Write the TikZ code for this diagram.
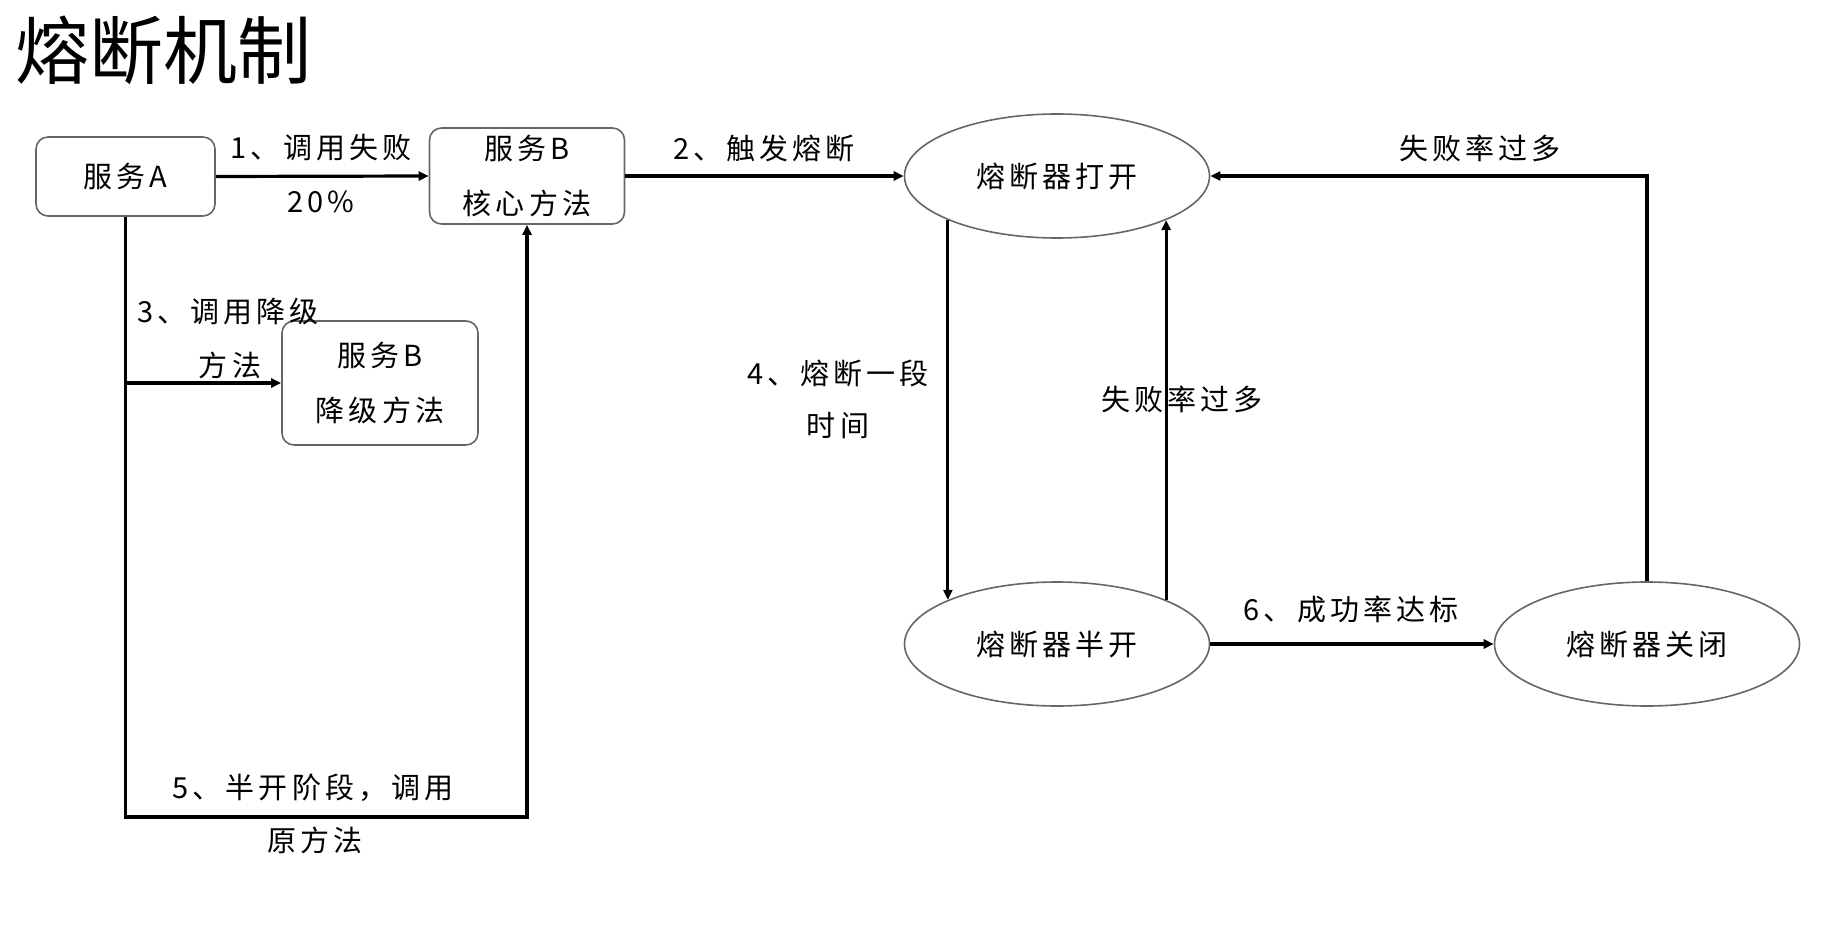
\documentclass[tikz,border=0pt]{standalone}
\usepackage{fontspec}
\setmainfont{Noto Sans CJK SC}
\newfontfamily\spacedfont[LetterSpace=14]{Noto Sans CJK SC}
\usetikzlibrary{arrows.meta,shapes.geometric}
\begin{document}
\begin{tikzpicture}[x=0.5pt,y=-0.5pt,
  txt/.style={font=\spacedfont\fontsize{14.5}{27.5}\selectfont, align=center, inner sep=0pt},
  box/.style={txt, draw=black!60, rounded corners=6pt, line width=0.8pt},
  state/.style={txt, draw=black!60, ellipse, line width=0.8pt, minimum width=152.5pt, minimum height=62pt, inner sep=0pt},
  conn/.style={line width=1.6pt, -{Triangle[length=5pt,width=4.5pt]}},
  lbl/.style={txt}]
\useasboundingbox (0,0) rectangle (1830,930);
\node[anchor=west, font=\fontsize{37}{40}\selectfont, inner sep=0pt] (title) at (15,50) {熔断机制};

\node[box, minimum width=89.5pt, minimum height=39.5pt] (A) at (125.5,176.5) {服务A};
\node[box, minimum width=97.5pt, minimum height=48pt] (B) at (527,176) {服务B\\核心方法};
\node[box, minimum width=98pt, minimum height=62pt] (C) at (380,383) {服务B\\降级方法};

\node[state] (open) at (1057,176) {熔断器打开};
\node[state] (half) at (1057,644) {熔断器半开};
\node[state] (closed) at (1647,644) {熔断器关闭};

\coordinate (bot) at (300,817);
\coordinate (br) at (A.south |- C.west);

\draw[conn] (A.east) -- (B.west);
\draw[conn] (B.east) -- (open.west);
\draw[conn] (open.202) -- (half.158);
\draw[conn] (half.22) -- (open.338);
\draw[conn] (half.east) -- (closed.west);
\draw[conn] (closed.north) |- (open.east);
\draw[conn] (A.south) |- (bot) -| (B.south);
\draw[conn] (br) -- (C.west);

\node[lbl] (l1) at (321,148) {1、调用失败};
\node[lbl] (l1b) at (321,202) {20\%};
\node[lbl] (l2) at (764,148) {2、触发熔断};
\node[lbl] (l3) at (228,312) {3、调用降级};
\node[lbl] (l3b) at (230,365) {方法};
\node[lbl] (l4) at (838,373) {4、熔断一段};
\node[lbl] (l4b) at (838,426) {时间};
\node[lbl] (l5) at (1182,399) {失败率过多};
\node[lbl] (l6) at (1351,609) {6、成功率达标};
\node[lbl] (l7) at (1480,148) {失败率过多};
\node[lbl] (l8) at (313,788) {5、半开阶段，调用};
\node[lbl] (l8b) at (315,840) {原方法};
\end{tikzpicture}
\end{document}
